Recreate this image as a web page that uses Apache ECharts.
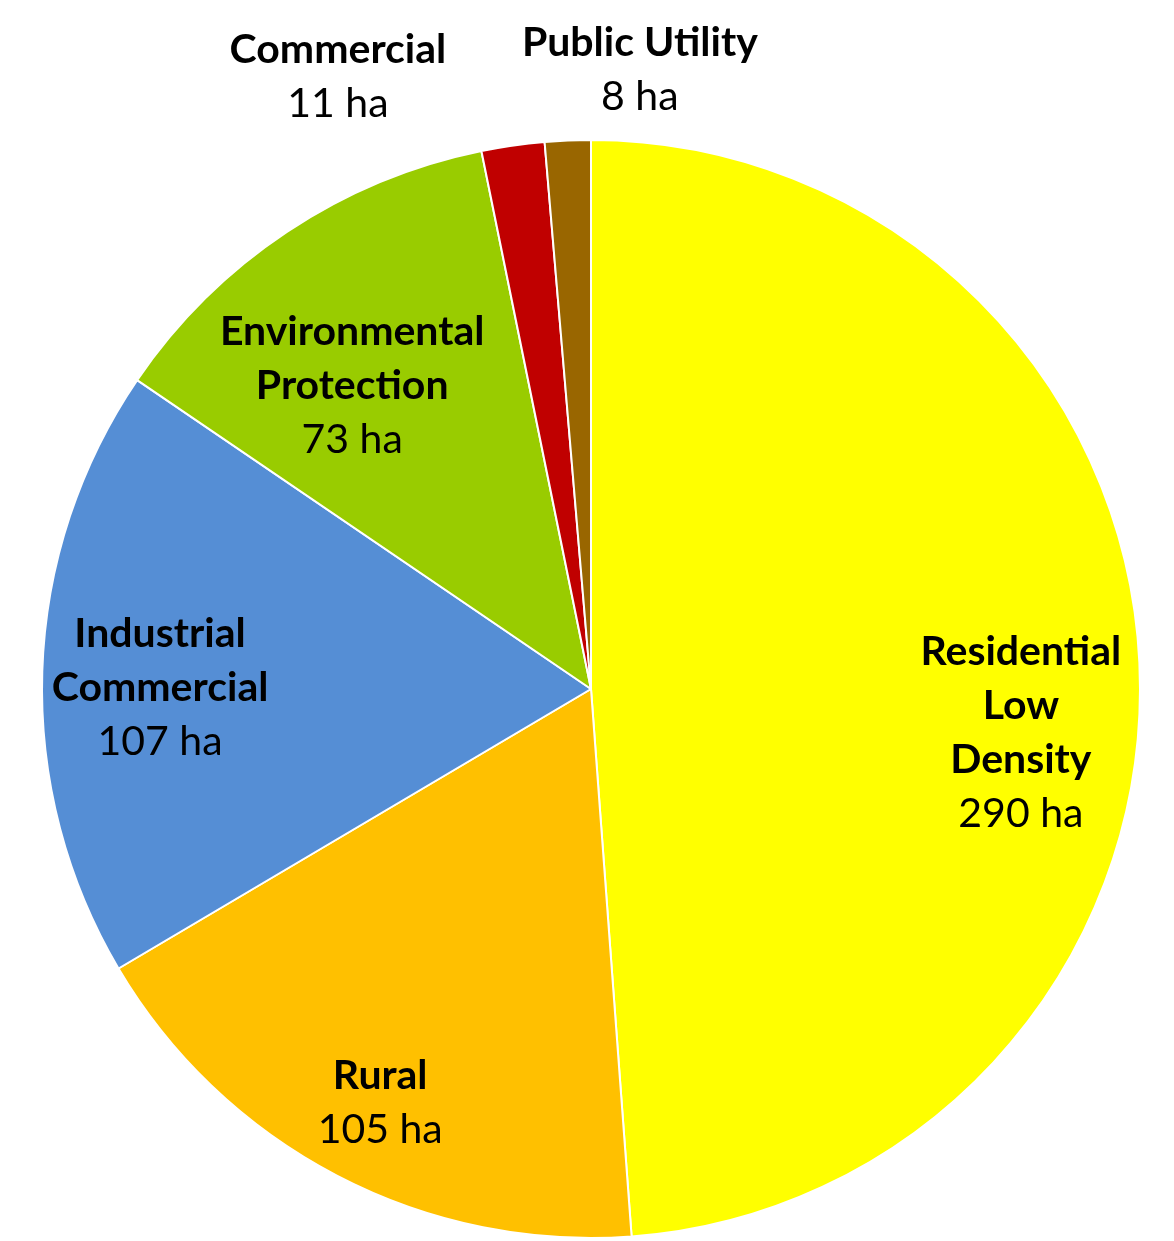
<!DOCTYPE html>
<html>
<head>
<meta charset="utf-8">
<script src="https://cdn.jsdelivr.net/npm/echarts@6/dist/echarts.min.js"></script>
<style>
  html, body { margin: 0; padding: 0; background: #ffffff; }
  #chart { width: 1174px; height: 1241px; }
</style>
</head>
<body>
<div id="chart"></div>
<script>
// Land use breakdown (hectares), clockwise from 12 o'clock
const categories = ['Residential\nLow\nDensity', 'Rural', 'Industrial\nCommercial', 'Environmental\nProtection', 'Commercial', 'Public Utility'];
const areas = [290, 105, 107, 73, 11, 8];
const unit = 'ha';

const colors = ['#FFFF00', '#FFC000', '#558ED5', '#99CC00', '#C00000', '#996600'];

// Pie geometry in pixels
const CX = 591, CY = 689, R = 549;
// Label centres relative to the pie centre, in units of the radius
const labelOffsets = [
  [0.783, 0.080],
  [-0.384, 0.754],
  [-0.785, -0.002],
  [-0.435, -0.552],
  [-0.461, -1.115],
  [0.089, -1.127]
];

const chart = echarts.init(document.getElementById('chart'), null, { renderer: 'canvas' });

chart.setOption({
  backgroundColor: '#ffffff',
  animation: false,
  series: [{
    type: 'pie',
    center: [CX, CY],
    radius: [0, R],
    startAngle: 90,
    clockwise: true,
    avoidLabelOverlap: false,
    itemStyle: { borderColor: '#ffffff', borderWidth: 2 },
    emphasis: { disabled: true },
    data: categories.map((name, i) => ({
      name: name,
      value: areas[i],
      itemStyle: { color: colors[i] }
    })),
    label: {
      show: true,
      position: 'inside',
      fontFamily: 'Lato',
      color: '#000000',
      align: 'center',
      formatter: function (p) {
        const lines = p.name.split('\n').map(s => '{n|' + s + '}');
        lines.push('{v|' + p.value + ' ' + unit + '}');
        return lines.join('\n');
      },
      rich: {
        n: { fontFamily: 'Lato', fontWeight: 'bold', fontSize: 41, lineHeight: 54, color: '#000000', align: 'center' },
        v: { fontFamily: 'Lato', fontWeight: 'normal', fontSize: 41, lineHeight: 54, color: '#000000', align: 'center' }
      }
    },
    labelLine: { show: false },
    labelLayout: function (p) {
      const o = labelOffsets[p.dataIndex];
      return {
        x: CX + o[0] * R,
        y: CY + o[1] * R,
        align: 'center',
        verticalAlign: 'middle'
      };
    }
  }]
});
</script>
</body>
</html>
